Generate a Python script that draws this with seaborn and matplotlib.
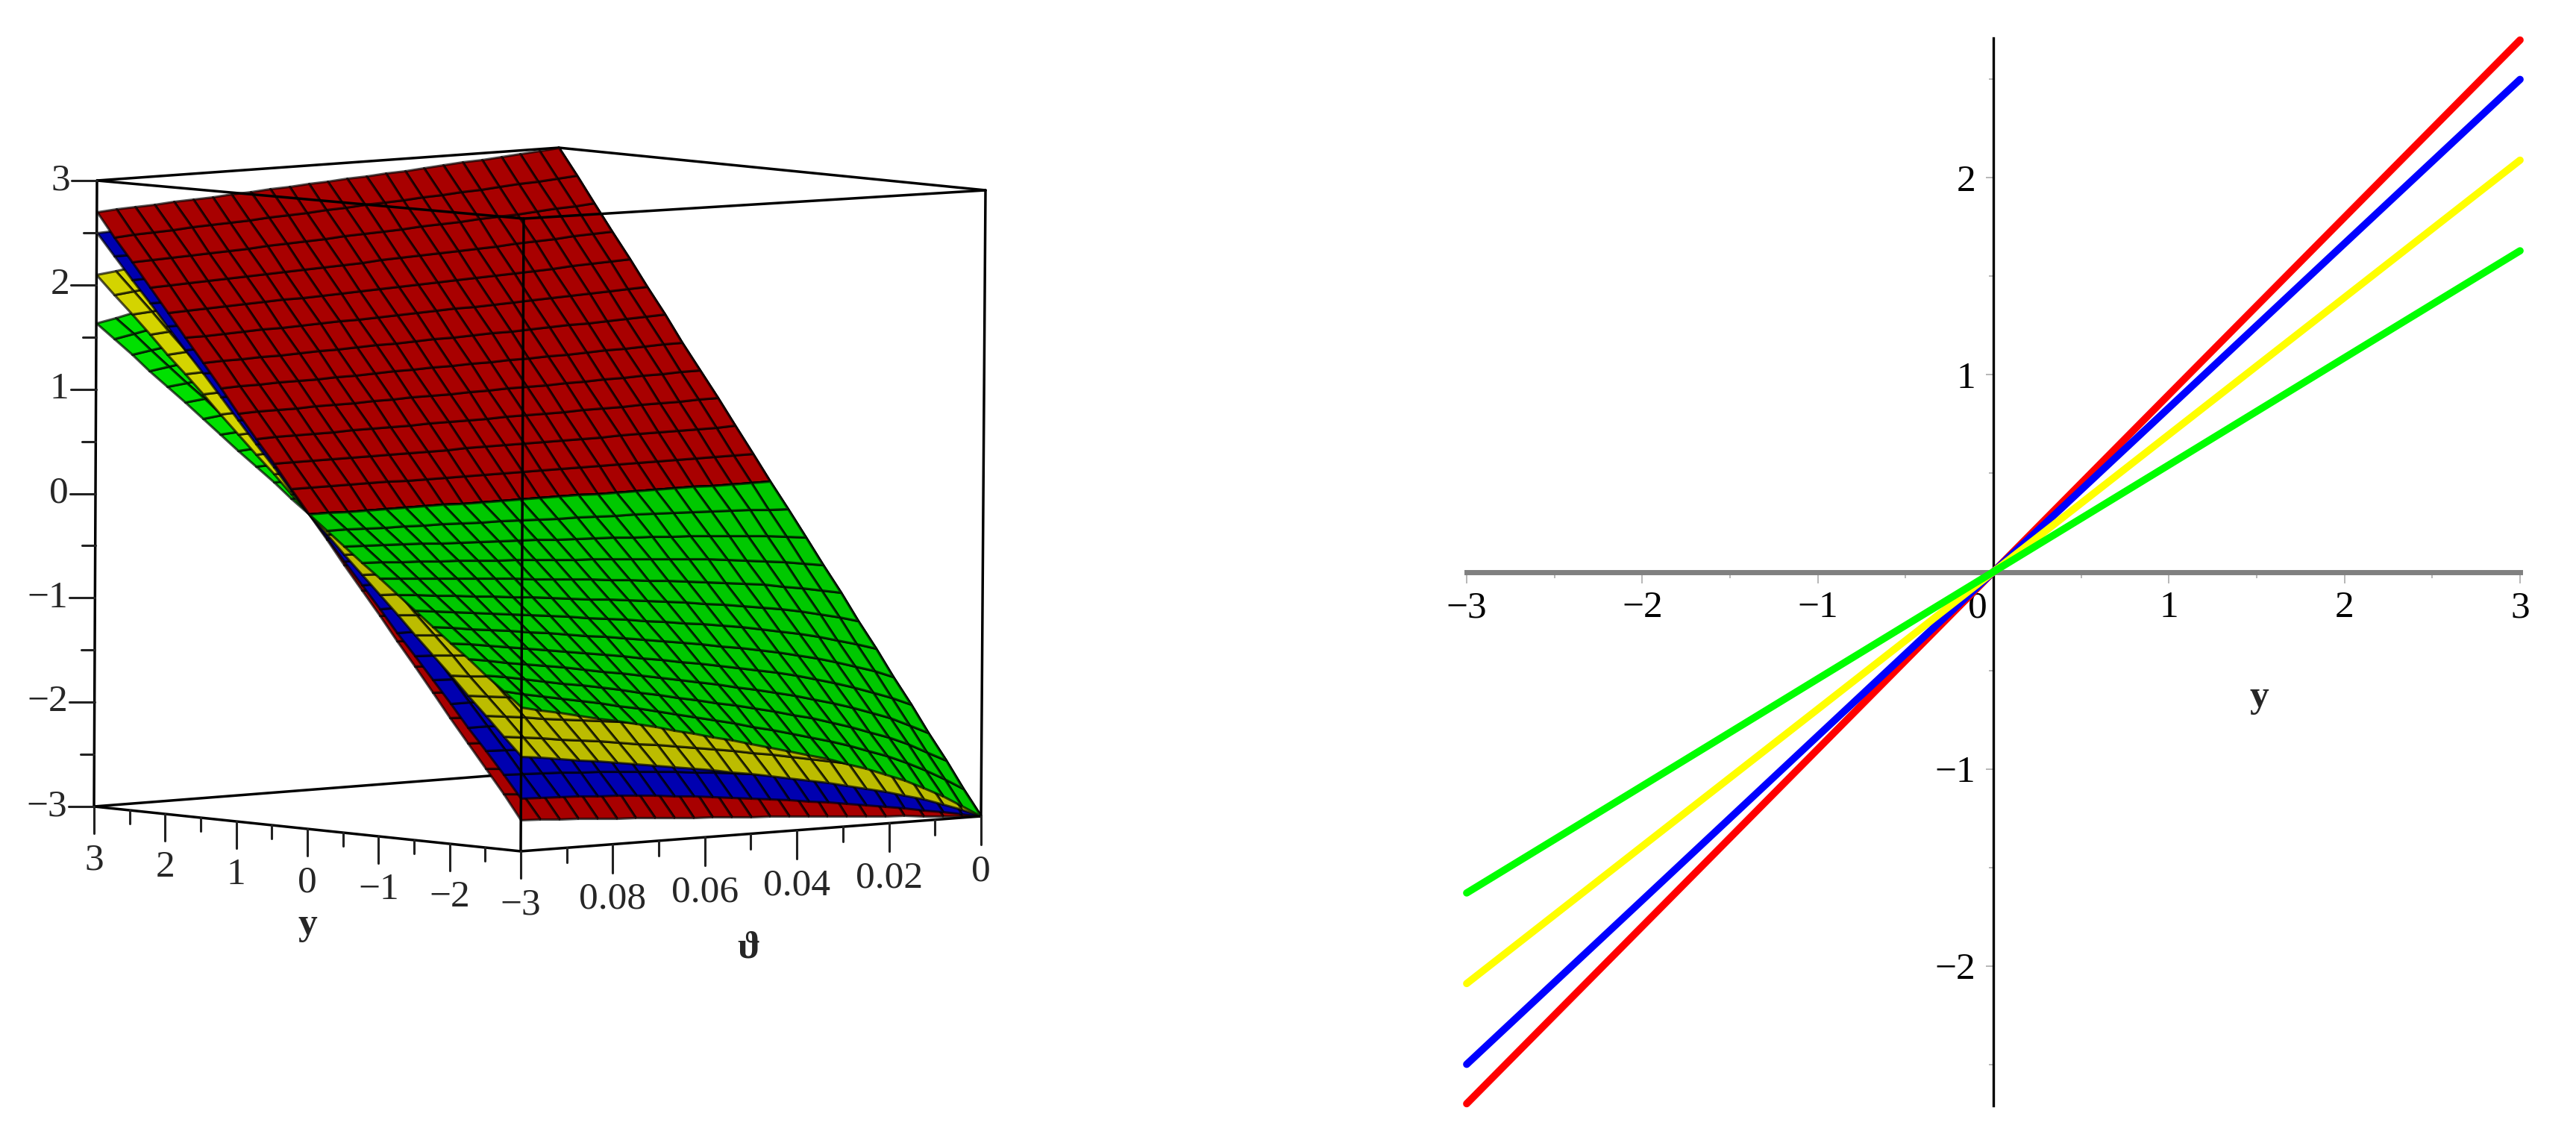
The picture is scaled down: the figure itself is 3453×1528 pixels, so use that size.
import numpy as np
import pandas as pd
import matplotlib
matplotlib.use("Agg")
import matplotlib.pyplot as plt
from matplotlib.colors import ListedColormap
from matplotlib.ticker import MultipleLocator, NullFormatter
from matplotlib.transforms import ScaledTranslation
import seaborn as sns

# ---------- data ----------
line_y = [-3, -2, -1, 0, 1, 2, 3]
line_red = [-2.70, -1.80, -0.90, 0, 0.90, 1.80, 2.70]
line_blue = [-2.50, -1.667, -0.833, 0, 0.833, 1.667, 2.50]
line_yellow = [-2.09, -1.393, -0.697, 0, 0.697, 1.393, 2.09]
line_green = [-1.63, -1.087, -0.543, 0, 0.543, 1.087, 1.63]

# ratio z / y read along the theta direction (25 mesh columns, theta 0 to 0.1)
ratio_red = [1, .995, .990, .985, .980, .976, .971, .967, .962, .958, .954, .950, .946,
             .942, .938, .934, .930, .926, .922, .918, .915, .911, .907, .904, .900]
ratio_blue = [1, .988, .977, .966, .956, .946, .936, .927, .918, .910, .902, .894, .887,
              .880, .873, .867, .861, .856, .851, .847, .843, .840, .837, .835, .833]
ratio_yellow = [1, .975, .952, .932, .914, .898, .883, .869, .856, .844, .832, .821, .810,
                .799, .789, .779, .769, .760, .751, .742, .733, .725, .716, .708, .700]
ratio_green = [1, .962, .927, .896, .868, .843, .821, .800, .781, .763, .746, .730, .714,
               .698, .683, .668, .653, .638, .624, .610, .597, .584, .571, .558, .545]

z_ticks = [-3, -2, -1, 0, 1, 2, 3]
y3d_ticks = [3, 2, 1, 0, -1, -2, -3]
theta_ticks = [0, 0.02, 0.04, 0.06, 0.08]
theta_labels = ["0", "0.02", "0.04", "0.06", "0.08"]

# ---------- style ----------
W, H = 3453, 1528
sns.set_theme(style="white")
plt.rcParams["font.family"] = ["Liberation Serif", "DejaVu Serif"]
plt.rcParams["axes.unicode_minus"] = True
FS = 37
fig = plt.figure(figsize=(W / 100, H / 100), dpi=100, facecolor="white")

# ---------- left panel: 3-D box drawn through a trilinear view mapping ----------
ax3 = fig.add_axes([0, 0, 1, 1])
ax3.set_xlim(0, W)
ax3.set_ylim(H, 0)
ax3.axis("off")

VIEW = {
    "A": ((130, 242), (126, 1081)),   # y=3,  theta=0.1
    "B": ((702, 293), (698, 1141)),   # y=-3, theta=0.1
    "C": ((1321, 255), (1315, 1094)), # y=-3, theta=0
    "D": ((749, 198), (745, 1033)),   # y=3,  theta=0
}


def project(y, th, z):
    y, th, z = np.asarray(y, float), np.asarray(th, float), np.asarray(z, float)
    u, v, w = (3 - y) / 6, th / 0.1, (z + 3) / 6
    out = []
    for i in range(2):
        front_top = (1 - u) * VIEW["A"][0][i] + u * VIEW["B"][0][i]
        front_bot = (1 - u) * VIEW["A"][1][i] + u * VIEW["B"][1][i]
        back_top = (1 - u) * VIEW["D"][0][i] + u * VIEW["C"][0][i]
        back_bot = (1 - u) * VIEW["D"][1][i] + u * VIEW["C"][1][i]
        top = v * front_top + (1 - v) * back_top
        bot = v * front_bot + (1 - v) * back_bot
        out.append(w * top + (1 - w) * bot)
    return out


def edge(p, q, z=1, lw=2.5):
    px, py = project(*p)
    qx, qy = project(*q)
    ax3.plot([px, qx], [py, qy], color="black", lw=lw, zorder=z, solid_capstyle="round")


# back edges
edge((3, .1, 3), (3, 0, 3))
edge((3, 0, 3), (-3, 0, 3))
edge((3, 0, 3), (3, 0, -3))
edge((3, .1, -3), (3, 0, -3))
edge((3, 0, -3), (-3, 0, -3))

theta_grid = np.linspace(0, 0.1, 25)


def surface(ratio, y_from, y_to, color, z):
    ys = np.linspace(y_from, y_to, 13)
    Y, T = np.meshgrid(ys, theta_grid)
    Z = Y * np.asarray(ratio)[:, None]
    X2, Y2 = project(Y, T, Z)
    ax3.pcolormesh(X2, Y2, np.zeros((24, 12)), cmap=ListedColormap([color]), shading="flat",
                   edgecolors=(0, 0, 0, 0.68), linewidth=2.3, zorder=z, antialiased=True)


zo = 2
for r, c in [(ratio_green, "#00e000"), (ratio_yellow, "#d4d400"), (ratio_blue, "#0000b0"), (ratio_red, "#a80000")]:
    surface(r, 0, 3, c, zo)
    zo += 1
for r, c in [(ratio_red, "#a80000"), (ratio_blue, "#0000b0"), (ratio_yellow, "#bcbc00"), (ratio_green, "#00c800")]:
    surface(r, -3, 0, c, zo)
    zo += 1

# front edges
for p, q in [((3, .1, 3), (-3, .1, 3)), ((-3, .1, 3), (-3, 0, 3)), ((3, .1, 3), (3, .1, -3)),
             ((-3, .1, 3), (-3, .1, -3)), ((-3, 0, 3), (-3, 0, -3)),
             ((3, .1, -3), (-3, .1, -3)), ((-3, .1, -3), (-3, 0, -3))]:
    edge(p, q, z=20)

# z axis
for v in np.arange(-3, 3.01, 0.5):
    x, yy = project(3, .1, v)
    major = float(v).is_integer()
    ln = 34 if major else 18
    ax3.plot([x - ln, x], [yy, yy], color="#222222", lw=2.2, zorder=20)
for v in z_ticks:
    x, yy = project(3, .1, v)
    ax3.text(x - 36, yy, f"{v}".replace("-", "\u2212"), ha="right", va="center", fontsize=FS, zorder=21)

# y axis
for v in np.arange(-3, 3.01, 0.5):
    x, yy = project(v, .1, -3)
    major = float(v).is_integer()
    ln = 36 if major else 18
    ax3.plot([x, x], [yy, yy + ln], color="#222222", lw=2.2, zorder=20)
for v in y3d_ticks:
    x, yy = project(v, .1, -3)
    ax3.text(x, yy + 72, f"{v}".replace("-", "\u2212"), ha="center", va="center", fontsize=FS, zorder=21)

# theta axis
for v in np.arange(0, 0.0901, 0.01):
    x, yy = project(-3, v, -3)
    major = round(v * 100) % 2 == 0
    ln = 38 if major else 20
    ax3.plot([x, x], [yy, yy + ln], color="#222222", lw=2.2, zorder=20)
for v, s in zip(theta_ticks, theta_labels):
    x, yy = project(-3, v, -3)
    ax3.text(x, yy + 74, s, ha="center", va="center", fontsize=FS, zorder=21)

ax3.text(412, 1240, "y", ha="center", va="center", fontsize=FS, fontweight="bold", zorder=21)
ax3.text(1004, 1272, "\u03d1", ha="center", va="center", fontsize=FS, fontweight="bold", zorder=21)

# ---------- right panel ----------
left, right, top, bottom = 1966, 3378, 51, 1482
ax = fig.add_axes([left / W, 1 - bottom / H, (right - left) / W, (bottom - top) / H])
ax.patch.set_alpha(0)

df = pd.concat([
    pd.DataFrame({"y": line_y, "value": line_red, "series": "red"}),
    pd.DataFrame({"y": line_y, "value": line_blue, "series": "blue"}),
    pd.DataFrame({"y": line_y, "value": line_yellow, "series": "yellow"}),
    pd.DataFrame({"y": line_y, "value": line_green, "series": "green"}),
])
sns.lineplot(data=df, x="y", y="value", hue="series", sort=False, errorbar=None, legend=False, ax=ax,
             palette={"red": "#ff0000", "blue": "#0000ff", "yellow": "#ffff00", "green": "#00ff00"},
             linewidth=7, clip_on=False, zorder=5)
ax.set_xlim(-3, 3)
ax.set_ylim(-2.71, 2.71)
sns.despine(ax=ax)
ax.spines["left"].set_position(("data", 0))
ax.spines["bottom"].set_position(("data", 0))
ax.spines["left"].set_color("black")
ax.spines["left"].set_linewidth(2.4)
ax.spines["bottom"].set_color("#808080")
ax.spines["bottom"].set_linewidth(5)
ax.set_xticks(line_y)
ax.set_yticks([-2, -1, 1, 2])
ax.set_xticklabels([f"{v}".replace("-", "\u2212") for v in line_y])
ax.set_yticklabels(["\u22122", "\u22121", "1", "2"])
ax.xaxis.set_minor_locator(MultipleLocator(0.5))
ax.yaxis.set_minor_locator(MultipleLocator(0.5))
ax.xaxis.set_minor_formatter(NullFormatter())
ax.yaxis.set_minor_formatter(NullFormatter())
ax.tick_params(axis="x", which="major", direction="out", bottom=True, length=11, width=1.2, color="#aaaaaa", pad=7, labelsize=FS, labelcolor="black")
ax.tick_params(axis="x", which="minor", direction="out", bottom=True, length=6, width=1.2, color="#aaaaaa")
ax.tick_params(axis="y", which="major", direction="out", left=True, length=7, width=1.2, color="#aaaaaa", pad=10, labelsize=FS, labelcolor="black")
ax.tick_params(axis="y", which="minor", direction="out", left=True, length=4, width=1.2, color="#aaaaaa")
for lab in ax.get_xticklabels():
    if lab.get_text() == "0":
        lab.set_ha("right")
        lab.set_transform(lab.get_transform() + ScaledTranslation(-6 / 72, 0, fig.dpi_scale_trans))
ax.set_xlabel("y", fontsize=FS, fontweight="bold")
ax.xaxis.set_label_coords((3028 - left) / (right - left), (bottom - 912) / (bottom - top), transform=ax.transAxes)
ax.set_ylabel("")

fig.savefig("out.png", dpi=100, facecolor="white")
